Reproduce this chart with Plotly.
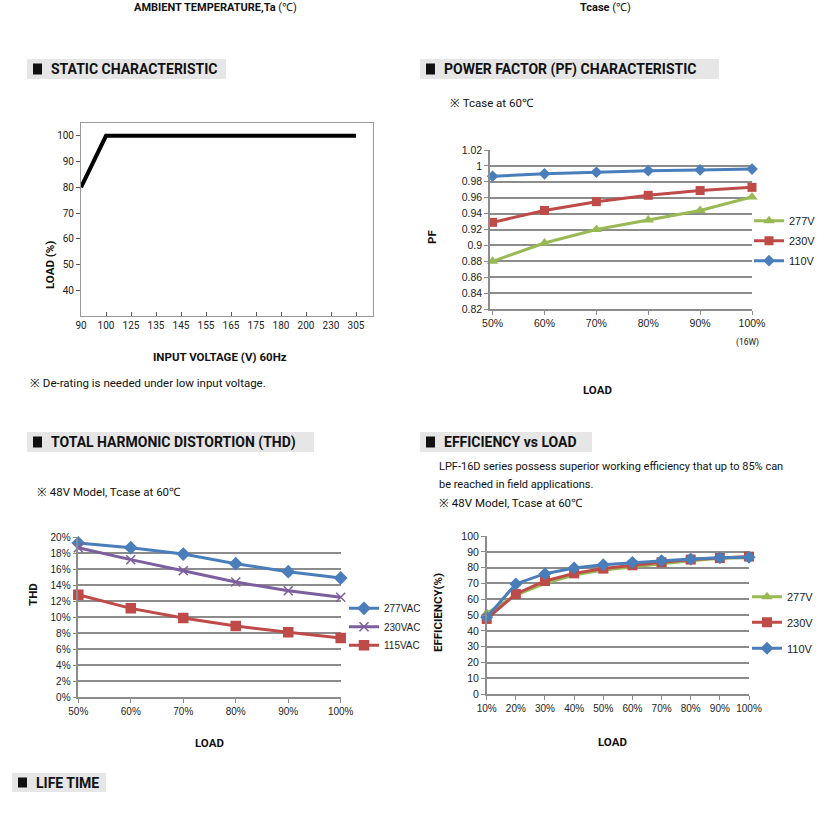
import plotly.graph_objects as go

W, H = 830, 819

# ---------------- data ----------------
static_voltage = ["90", "100", "125", "135", "145", "155", "165", "175", "180", "200", "230", "305"]
static_load = [80, 100, 100, 100, 100, 100, 100, 100, 100, 100, 100, 100]

pf_load = ["50%", "60%", "70%", "80%", "90%", "100%"]
pf_277 = [0.880, 0.903, 0.920, 0.932, 0.944, 0.961]
pf_230 = [0.929, 0.944, 0.955, 0.963, 0.969, 0.973]
pf_110 = [0.987, 0.990, 0.992, 0.994, 0.995, 0.996]

thd_load = ["50%", "60%", "70%", "80%", "90%", "100%"]
thd_277 = [19.3, 18.7, 17.9, 16.7, 15.7, 14.9]
thd_230 = [18.7, 17.2, 15.8, 14.4, 13.3, 12.5]
thd_115 = [12.8, 11.1, 9.9, 8.9, 8.1, 7.4]

eff_load = ["10%", "20%", "30%", "40%", "50%", "60%", "70%", "80%", "90%", "100%"]
eff_277 = [51.2, 62.7, 70.1, 75.4, 78.5, 80.6, 82.3, 84.4, 85.9, 86.3]
eff_230 = [47.6, 63.4, 71.6, 76.4, 79.4, 81.5, 83.4, 85.1, 86.1, 87.0]
eff_110 = [48.6, 69.7, 76.2, 79.8, 81.9, 83.2, 84.4, 85.5, 86.3, 86.5]

# ---------------- helpers ----------------
def px(x):
    return x / W

def py(y):
    return 1 - y / H

NARROW = "Roboto, Liberation Sans, sans-serif"
SANS = "Liberation Sans, Arial, sans-serif"
BLUE = "#4a7ebb"
RED = "#be4b48"
GREEN = "#98b954"
PURPLE = "#7d5fa0"
GRID = "#8c8c8c"

fig = go.Figure()

# ---------- static characteristic ----------
fig.add_trace(go.Scatter(x=static_voltage, y=static_load, mode="lines",
                         line=dict(color="black", width=4), xaxis="x", yaxis="y",
                         showlegend=False, cliponaxis=False))

# ---------- PF ----------
pf_series = [("277V", pf_277, GREEN, "triangle-up", 10, "legend"),
             ("230V", pf_230, RED, "square", 9, "legend2"),
             ("110V", pf_110, BLUE, "diamond", 9, "legend3")]
for name, vals, col, sym, sz, lg in pf_series:
    fig.add_trace(go.Scatter(x=pf_load, y=vals, name=name, mode="lines+markers",
                             line=dict(color=col, width=3),
                             marker=dict(symbol=sym, size=sz, color=col),
                             xaxis="x2", yaxis="y2", legend=lg, cliponaxis=False))

# ---------- THD ----------
thd_series = [("277VAC", thd_277, BLUE, "diamond", 9, "legend4"),
              ("230VAC", thd_230, PURPLE, "x-thin", 9, "legend5"),
              ("115VAC", thd_115, RED, "square", 9, "legend6")]
for name, vals, col, sym, sz, lg in thd_series:
    fig.add_trace(go.Scatter(x=thd_load, y=vals, name=name, mode="lines+markers",
                             line=dict(color=col, width=3),
                             marker=dict(symbol=sym, size=sz, color=col,
                                         line=dict(color=col, width=1.5)),
                             xaxis="x3", yaxis="y3", legend=lg, cliponaxis=False))

# ---------- Efficiency ----------
eff_series = [("277V", eff_277, GREEN, "triangle-up", 10, "legend7"),
              ("230V", eff_230, RED, "square", 10, "legend8"),
              ("110V", eff_110, BLUE, "diamond", 10, "legend9")]
for name, vals, col, sym, sz, lg in eff_series:
    fig.add_trace(go.Scatter(x=eff_load, y=vals, name=name, mode="lines+markers",
                             line=dict(color=col, width=3),
                             marker=dict(symbol=sym, size=sz, color=col),
                             xaxis="x4", yaxis="y4", legend=lg, cliponaxis=False))

tickfont_chart = dict(family=SANS, size=10, color="#222")

layout = dict(
    width=W, height=H, margin=dict(l=0, r=0, t=0, b=0, autoexpand=False),
    paper_bgcolor="white", plot_bgcolor="white",
    font=dict(family=SANS, color="#111"),
    # static
    xaxis=dict(domain=[px(81), px(373)], anchor="y", type="category",
               categoryorder="array", categoryarray=static_voltage,
               range=[0, 11.68], showgrid=False, zeroline=False, automargin=False,
               showline=True, linecolor="#999", linewidth=1, mirror=True,
               ticks="inside", ticklen=4, tickcolor="#555",
               tickfont=dict(family=NARROW, size=10, color="#222")),
    yaxis=dict(domain=[py(316), py(123)], anchor="x", range=[30, 105], automargin=False,
               tickvals=[40, 50, 60, 70, 80, 90, 100], showgrid=False, zeroline=False,
               showline=True, linecolor="#999", linewidth=1, mirror=True,
               ticks="outside", ticklen=4, tickcolor="#555",
               tickfont=dict(family=NARROW, size=10, color="#222")),
    # PF
    xaxis2=dict(domain=[px(490), px(752)], anchor="y2", type="category", automargin=False,
                range=[-0.05, 5], showgrid=False, zeroline=False,
                showline=True, linecolor=GRID, linewidth=1.5,
                ticks="outside", ticklen=4, tickcolor=GRID, tickfont=dict(family=SANS, size=10.5, color="#222")),
    yaxis2=dict(domain=[py(309), py(150)], anchor="x2", range=[0.82, 1.02], dtick=0.02, automargin=False,
                showgrid=True, gridcolor=GRID, gridwidth=1.5, zeroline=False,
                showline=True, linecolor=GRID, linewidth=1.5,
                ticks="outside", ticklen=4, tickcolor=GRID, tickfont=dict(family=SANS, size=10.5, color="#222")),
    # THD
    xaxis3=dict(domain=[px(78.3), px(340.7)], anchor="y3", type="category", automargin=False,
                range=[0, 5], showgrid=False, zeroline=False,
                showline=True, linecolor=GRID, linewidth=1.5,
                ticks="outside", ticklen=4, tickcolor=GRID, tickfont=tickfont_chart),
    yaxis3=dict(domain=[py(697), py(537.3)], anchor="x3", range=[0, 20], dtick=2, ticksuffix="%",
                automargin=False,
                showgrid=True, gridcolor=GRID, gridwidth=1.5, zeroline=False,
                showline=True, linecolor=GRID, linewidth=1.5,
                ticks="outside", ticklen=4, tickcolor=GRID, tickfont=tickfont_chart),
    # Efficiency
    xaxis4=dict(domain=[px(486.7), px(749)], anchor="y4", type="category", automargin=False,
                range=[0, 9], showgrid=False, zeroline=False,
                showline=True, linecolor=GRID, linewidth=1.5,
                ticks="outside", ticklen=4, tickcolor=GRID, tickfont=tickfont_chart),
    yaxis4=dict(domain=[py(694.3), py(536)], anchor="x4", range=[0, 100], dtick=10, automargin=False,
                showgrid=True, gridcolor=GRID, gridwidth=1.5, zeroline=False,
                showline=True, linecolor=GRID, linewidth=1.5,
                ticks="outside", ticklen=4, tickcolor=GRID, tickfont=dict(family=SANS, size=10.5, color="#222")),
)

def legend_at(text_x, y_px, size=11):
    return dict(x=px(text_x - 40), y=py(y_px), xanchor="left", yanchor="middle",
                bgcolor="rgba(0,0,0,0)", borderwidth=0, itemwidth=30,
                font=dict(family=SANS, size=size, color="#222"))

layout["legend"] = legend_at(789, 220.7)
layout["legend2"] = legend_at(789, 240.7)
layout["legend3"] = legend_at(789, 260.7)
layout["legend4"] = legend_at(384, 608.3, 10)
layout["legend5"] = legend_at(384, 626.7, 10)
layout["legend6"] = legend_at(384, 645.3, 10)
layout["legend7"] = legend_at(787, 596.7)
layout["legend8"] = legend_at(787, 622.3)
layout["legend9"] = legend_at(787, 648.3)

fig.update_layout(**layout)

shapes = []
annotations = []

def header(x0, x1, y0, y1, text):
    shapes.append(dict(type="rect", xref="paper", yref="paper",
                       x0=px(x0), x1=px(x1), y0=py(y1), y1=py(y0),
                       fillcolor="#e6e6e6", line=dict(width=0), layer="below"))
    shapes.append(dict(type="rect", xref="paper", yref="paper",
                       x0=px(x0 + 6), x1=px(x0 + 15), y0=py(y1 - 4.5), y1=py(y0 + 4.5),
                       fillcolor="#111", line=dict(width=0)))
    annotations.append(dict(text="<b>" + text + "</b>", x=px(x0 + 22), y=py((y0 + y1) / 2),
                            xref="paper", yref="paper", xanchor="left", yanchor="middle",
                            showarrow=False, font=dict(family=NARROW, size=14, color="#111")))

def label(text, x, y, size=12, bold=False, anchor="center", angle=0, family=NARROW):
    t = "<b>" + text + "</b>" if bold else text
    annotations.append(dict(text=t, x=px(x), y=py(y), xref="paper", yref="paper",
                            xanchor=anchor, yanchor="middle", showarrow=False, textangle=angle,
                            font=dict(family=family, size=size, color="#111")))

header(27, 226, 59, 79, "STATIC CHARACTERISTIC")
header(420, 719, 59, 79, "POWER FACTOR (PF) CHARACTERISTIC")
header(27, 314, 432, 452, "TOTAL HARMONIC DISTORTION (THD)")
header(420, 592, 432, 452, "EFFICIENCY vs LOAD")
header(12, 106, 773, 792, "LIFE TIME")

label("<b>AMBIENT TEMPERATURE,Ta</b> (℃)", 215, 8, size=11)
label("<b>Tcase</b> (℃)", 605, 8, size=11)

label("LOAD (%)", 50, 265, size=11.5, bold=True, angle=-90)
label("INPUT VOLTAGE (V) 60Hz", 220, 357, size=11.5, bold=True)
label("※ De-rating is needed under low input voltage.", 28, 383, size=11.5, anchor="left")

label("※ Tcase at 60℃", 448, 103, size=11.5, anchor="left")
label("PF", 432, 237, size=11.5, bold=True, angle=-90)
label("LOAD", 597, 390, size=11.5, bold=True)
label("(16W)", 747, 342, size=8.5)

label("※ 48V Model, Tcase at 60℃", 35, 492, size=11.5, anchor="left")
label("THD", 33, 595, size=11.5, bold=True, angle=-90)
label("LOAD", 210, 743, size=11.5, bold=True)

label("LPF-16D series possess superior working efficiency that up to 85% can", 437, 466.7, size=11, anchor="left")
label("be reached in field applications.", 437, 484, size=11, anchor="left")
label("※ 48V Model, Tcase at 60℃", 437, 502.7, size=11.5, anchor="left")
label("EFFICIENCY(%)", 438, 613, size=11.5, bold=True, angle=-90)
label("LOAD", 612, 742, size=11.5, bold=True)

fig.update_layout(shapes=shapes, annotations=annotations)

fig.write_html(
    "out.html",
    config={"displayModeBar": False},
    post_script=("document.documentElement.style.margin='0px';"
                 "document.documentElement.style.overflow='hidden';"
                 "document.body.style.margin='0px';document.body.style.padding='0px';"
                 "document.body.style.overflow='hidden';"),
)
